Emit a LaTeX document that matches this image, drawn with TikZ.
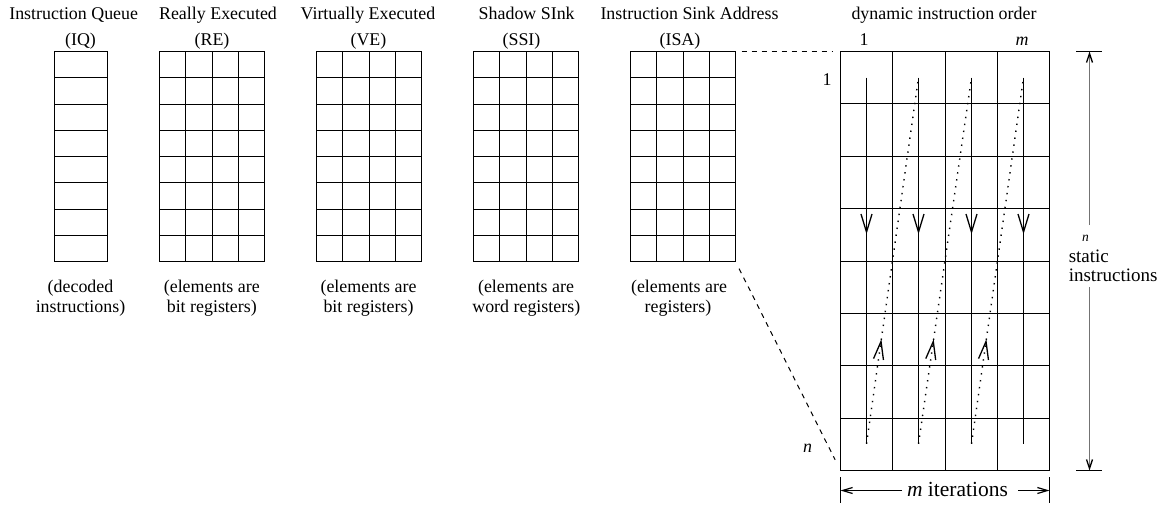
\documentclass[tikz,border=0pt]{standalone}
\usepackage{fontspec}
\setmainfont{Liberation Serif}
\usetikzlibrary{arrows.meta,decorations.markings,calc}
% #1 name, #2 x (left, snapped to .5), #3 y (top), #4 width, #5 height, #6 columns, #7 rows
\newcommand\mkgrid[7]{%
  \node[gbox, anchor=north west, minimum width=#4pt, minimum height=#5pt] (#1) at (#2,#3) {};
  \foreach \k in {1,...,7} {\draw[gl] (#2,{#3+round(#5/#7*\k)}) -- ++(#4,0);}
  \ifnum#6>1
    \foreach \k in {2,...,#6} {\draw[gl] ({#2+round(#4/#6*(\k-1))},#3) -- ++(0,#5);}
  \fi
}
\begin{document}
\begin{tikzpicture}[x=1pt,y=-1pt,
  gl/.style={line width=1.2pt, black},
  gbox/.style={draw, line width=1.2pt, inner sep=0pt, outer sep=0pt, rectangle},
  txt/.style={font=\fontsize{17.9}{20.5}\selectfont, inner sep=0pt, outer sep=0pt, anchor=base},
  flow/.style={line width=1.3pt, postaction={decorate},
    decoration={markings, mark=at position 0.428 with {\arrow{Straight Barb[length=18pt,width=11pt,line width=1.3pt]}}}},
  back/.style={line width=1.4pt, dash pattern=on 1.4pt off 5.6pt, postaction={decorate},
    decoration={markings, mark=at position 0.286 with {\arrow{Straight Barb[length=18pt,width=10pt,line width=1.3pt]}}}},
  zoomline/.style={line width=1pt, dash pattern=on 5pt off 5pt},
  tick/.style={line width=1.2pt, black},
  dimv/.style={line width=1.3pt, black!55, -{Straight Barb[length=9pt,width=6pt,black]}},
  dimh/.style={line width=1.2pt, black, -{Straight Barb[length=10pt,width=6pt]}}
]
\useasboundingbox (0,0) rectangle (1160,523);

% small grids
\mkgrid{IQ}{54.5}{51.5}{53}{210}{1}{8}
\mkgrid{RE}{159.5}{51.5}{105}{210}{4}{8}
\mkgrid{VE}{316.5}{51.5}{105}{210}{4}{8}
\mkgrid{SSI}{473.5}{51.5}{105}{210}{4}{8}
\mkgrid{ISA}{630.5}{51.5}{105}{210}{4}{8}
% big grid
\mkgrid{BIG}{840.5}{51.5}{209}{419}{4}{8}

% titles
\node[txt] (t1) at (73.7,19) {Instruction Queue};
\node[txt] (t2) at (218,19) {Really Executed};
\node[txt] (t3) at (368,19) {Virtually Executed};
\node[txt] (t4) at (526.7,19) {Shadow SInk};
\node[txt] (t5) at (689.5,19) {Instruction Sink Address};
\node[txt] (t6) at (944,19) {dynamic instruction order};

\node[txt] (a1) at (80.5,45.5) {(IQ)};
\node[txt] (a2) at (212,45.5) {(RE)};
\node[txt] (a3) at (368.5,45.5) {(VE)};
\node[txt] (a4) at (521.5,45.5) {(SSI)};
\node[txt] (a5) at (680,45.5) {(ISA)};

\node[txt] (c1) at (864,45.5) {1};
\node[txt] (cm) at (1022,45.5) {\textit{m}};
\node[txt] (r1) at (827,85) {1};
\node[txt] (rn) at (807.5,452) {\textit{n}};

% bottom labels
\node[txt] (b1a) at (80.5,292) {(decoded};
\node[txt] (b1b) at (80.5,312) {instructions)};
\node[txt] (b2a) at (211.8,292) {(elements are};
\node[txt] (b2b) at (211.8,312) {bit registers)};
\node[txt] (b3a) at (368.5,292) {(elements are};
\node[txt] (b3b) at (368.5,312) {bit registers)};
\node[txt] (b4a) at (526,292) {(elements are};
\node[txt] (b4b) at (526.3,312) {word registers)};
\node[txt] (b5a) at (679,292) {(elements are};
\node[txt] (b5b) at (678,312) {registers)};

% zoom lines
\draw[zoomline, shorten <=6pt, shorten >=8pt] (ISA.north east) -- (BIG.north west);
\draw[zoomline, shorten <=8pt, shorten >=12pt] (ISA.south east) -- (BIG.south west);

% flow inside the big grid
\foreach \i in {1,...,4} {
  \coordinate (top\i) at ({floor(840.5+52.25*(\i-0.5))+0.5},77.5);
  \coordinate (bot\i) at ({floor(840.5+52.25*(\i-0.5))+0.5},443.8);
}
\foreach \i in {1,...,4} {\draw[flow] (top\i) -- (bot\i);}
\foreach \i/\j in {1/2,2/3,3/4} {\draw[back] (bot\i) -- (top\j);}

% vertical dimension
\coordinate (vt1) at (1076,51.5); \coordinate (vt2) at (1102,51.5);
\coordinate (vb1) at (1076,470.5);  \coordinate (vb2) at (1102,470.5);
\coordinate (vtop) at (1089.5,51.5); \coordinate (vbot) at (1089.5,470.5);
\coordinate (vg1) at (1089.5,225); \coordinate (vg2) at (1089.5,287);
\draw[tick] (vt1) -- (vt2);
\draw[tick] (vb1) -- (vb2);
\draw[dimv] (vg1) -- (vtop);
\draw[dimv] (vg2) -- (vbot);
\node[txt, font=\fontsize{13.5}{13.5}\selectfont\itshape] (nr) at (1085.5,241) {n};
\node[txt, font=\fontsize{19}{20}\selectfont, anchor=base west] (st) at (1068.8,262) {static};
\node[txt, font=\fontsize{19}{20}\selectfont, anchor=base west] (si) at (1068.8,281.5) {instructions};

% horizontal dimension
\coordinate (hl1) at (840.5,477); \coordinate (hl2) at (840.5,503);
\coordinate (hr1) at (1049.5,477); \coordinate (hr2) at (1049.5,503);
\coordinate (hl) at (840.5,490.5); \coordinate (hr) at (1049.5,490.5);
\coordinate (hg1) at (902,490.5); \coordinate (hg2) at (1018,490.5);
\draw[tick] (hl1) -- (hl2);
\draw[tick] (hr1) -- (hr2);
\draw[dimh] (hg1) -- (hl);
\draw[dimh] (hg2) -- (hr);
\node[txt, font=\fontsize{21.5}{22}\selectfont, anchor=base west] (it) at (907,496.5) {\textit{m} iterations};
\end{tikzpicture}
\end{document}
